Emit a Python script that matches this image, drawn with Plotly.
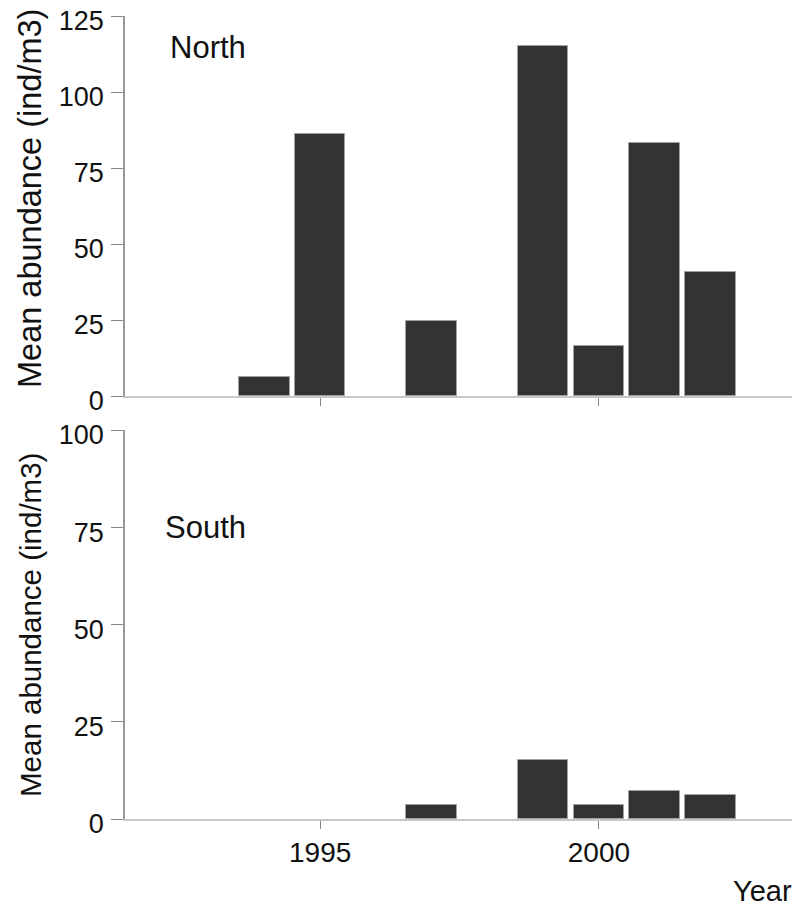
import plotly.graph_objects as go

years = [1994, 1995, 1997, 1999, 2000, 2001, 2002]
north = [6.3, 86.1, 24.8, 115.2, 16.4, 83.1, 40.9]
south_years = [1997, 1999, 2000, 2001, 2002]
south = [3.7, 15.1, 3.7, 7.3, 6.1]

y_ticks_north = [0, 25, 50, 75, 100, 125]
y_ticks_south = [0, 25, 50, 75, 100]
x_ticks = [1995, 2000]

FONT = "Liberation Sans, Arial, sans-serif"
BAR = "#333333"
EDGE = "#a0a0a0"

# page has an 8px body margin; figure origin sits at (8, 8)
OFF = 8
H, W = 906 - OFF, 800 - OFF
mt = 16 - OFF
mb = H - (819 - OFF)
ml = 125 - OFF
mr = W - (794 - OFF)
ph = H - mt - mb
pw = W - ml - mr

def py(page_y):
    return (H - mb - (page_y - OFF)) / ph

def px(page_x):
    return ((page_x - OFF) - ml) / pw

fig = go.Figure()
fig.add_trace(go.Bar(x=years, y=north, width=0.91, marker=dict(color=BAR, line=dict(color=EDGE, width=1)),
                     xaxis="x", yaxis="y", showlegend=False))
fig.add_trace(go.Bar(x=south_years, y=south, width=0.91, marker=dict(color=BAR, line=dict(color=EDGE, width=1)),
                     xaxis="x2", yaxis="y2", showlegend=False))

xcommon = dict(range=[1991.5, 2003.5], tickvals=x_ticks, ticks="outside", ticklen=8, tickwidth=1,
               tickcolor="#888888", showline=True, linecolor="#c8c8c8", linewidth=1.5, automargin=False,
               showgrid=False, zeroline=False, tickfont=dict(family=FONT, size=28, color="#111111"))
ycommon = dict(ticks="outside", ticklen=12, tickwidth=1, tickcolor="#888888", showline=True,
               linecolor="#999999", linewidth=1.5, showgrid=False, zeroline=False, automargin=False,
               ticklabeloverflow="allow", ticklabelshift=5,
               tickfont=dict(family=FONT, size=27, color="#111111"), ticklabelstandoff=2)

fig.update_layout(
    width=W, height=H,
    margin=dict(l=ml, r=mr, t=mt, b=mb, autoexpand=False),
    paper_bgcolor="white", plot_bgcolor="white",
    bargap=0,
    xaxis=dict(**xcommon, domain=[0, 1], anchor="y", showticklabels=False),
    yaxis=dict(**ycommon, domain=[py(396), 1.0], range=[0, 125], tickvals=y_ticks_north, anchor="x"),
    xaxis2=dict(**xcommon, domain=[0, 1], anchor="y2", showticklabels=True),
    yaxis2=dict(**ycommon, domain=[0, py(430)], range=[0, 100], tickvals=y_ticks_south, anchor="x2"),
    annotations=[
        dict(text="North", x=1992.28, y=114.5, xref="x", yref="y", xanchor="left", yanchor="middle",
             showarrow=False, font=dict(family=FONT, size=31, color="#111111")),
        dict(text="South", x=1992.19, y=75.0, xref="x2", yref="y2", xanchor="left", yanchor="middle",
             showarrow=False, font=dict(family=FONT, size=31, color="#111111")),
        dict(text="Mean abundance (ind/m3)", textangle=-90, x=px(30), y=py(199), xref="paper", yref="paper",
             xanchor="center", yanchor="middle",
             showarrow=False, font=dict(family=FONT, size=32.5, color="#111111")),
        dict(text="Mean abundance (ind/m3)", textangle=-90, x=px(30), y=py(625), xref="paper", yref="paper",
             xanchor="center", yanchor="middle",
             showarrow=False, font=dict(family=FONT, size=29.5, color="#111111")),
        dict(text="Year", x=1, y=py(891), xref="paper", yref="paper", xanchor="right", yanchor="middle",
             showarrow=False, font=dict(family=FONT, size=29, color="#111111")),
    ],
)

fig.write_html("out.html")
